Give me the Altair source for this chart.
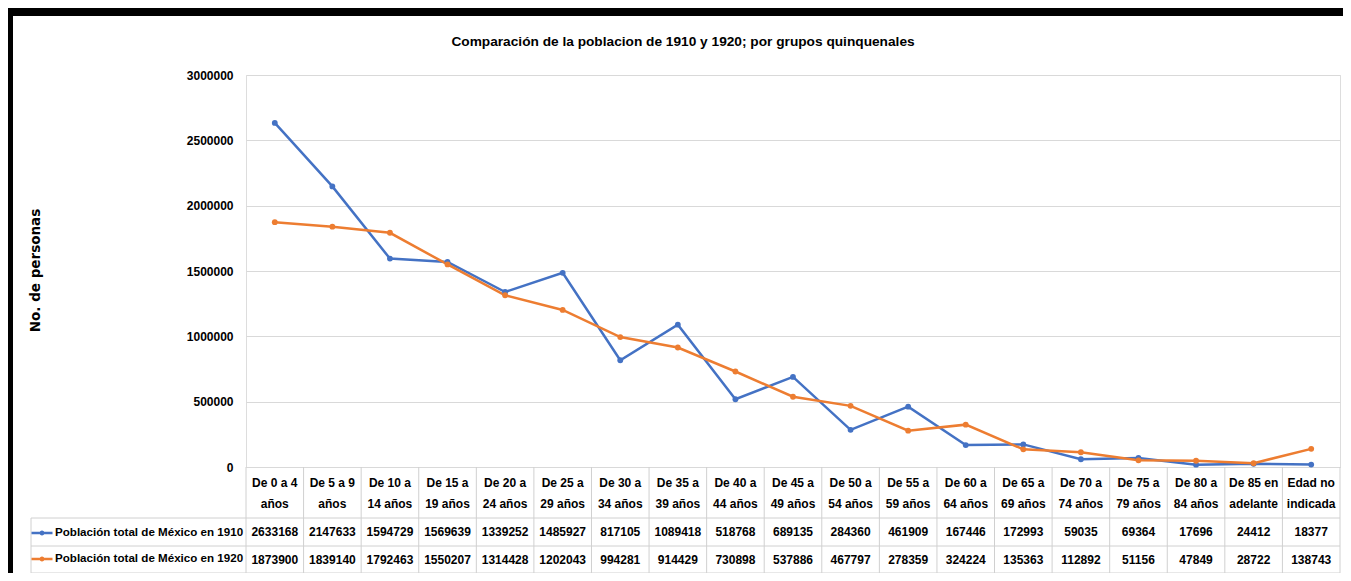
import altair as alt
import pandas as pd

# ---------------- data ----------------
cat_line1 = ["De 0 a 4", "De 5 a 9", "De 10 a", "De 15 a", "De 20 a", "De 25 a", "De 30 a",
             "De 35 a", "De 40 a", "De 45 a", "De 50 a", "De 55 a", "De 60 a", "De 65 a",
             "De 70 a", "De 75 a", "De 80 a", "De 85 en", "Edad no"]
cat_line2 = ["años", "años", "14 años", "19 años", "24 años", "29 años", "34 años",
             "39 años", "44 años", "49 años", "54 años", "59 años", "64 años", "69 años",
             "74 años", "79 años", "84 años", "adelante", "indicada"]
categories = [a + "\n" + b for a, b in zip(cat_line1, cat_line2)]

series_names = ["Población total de México en 1910", "Población total de México en 1920"]
pop_1910 = [2633168, 2147633, 1594729, 1569639, 1339252, 1485927, 817105, 1089418, 518768,
            689135, 284360, 461909, 167446, 172993, 59035, 69364, 17696, 24412, 18377]
pop_1920 = [1873900, 1839140, 1792463, 1550207, 1314428, 1202043, 994281, 914429, 730898,
            537886, 467797, 278359, 324224, 135363, 112892, 51156, 47849, 28722, 138743]
y_ticks = [0, 500000, 1000000, 1500000, 2000000, 2500000, 3000000]

title_text = "Comparación de la poblacion de 1910 y 1920; por grupos quinquenales"
y_title = "No. de personas"

df = pd.DataFrame({
    "cat": categories * 2,
    "serie": [series_names[0]] * len(categories) + [series_names[1]] * len(categories),
    "valor": pop_1910 + pop_1920,
})
df_cat = pd.DataFrame({"cat": categories})

# ---------------- style ----------------
FONT = "Liberation Sans"
W, H = 1094, 392
GRID = "#d9d9d9"
BORDER = "#d0d0d0"
colors = ["#4472C4", "#ED7D31"]

x_enc = alt.X("cat:N", sort=categories, axis=None,
              scale=alt.Scale(paddingInner=0, paddingOuter=0))
color_enc = alt.Color(
    "serie:N",
    scale=alt.Scale(domain=series_names, range=colors),
    legend=alt.Legend(
        title=None, orient="none", legendX=-216, legendY=446, padding=0,
        symbolType="M-1,0L1,0M-0.12,0A0.12,0.12,0,1,1,0.12,0A0.12,0.12,0,1,1,-0.12,0",
        symbolSize=441, symbolStrokeWidth=2.5, rowPadding=7, labelOffset=1,
        labelFont=FONT, labelFontSize=11.6, labelFontWeight="bold", labelColor="#000000",
        labelLimit=400,
    ),
)

y_enc = alt.Y(
    "valor:Q",
    scale=alt.Scale(domain=[0, 3000000], nice=False, zero=True),
    axis=alt.Axis(
        values=y_ticks, format="d", domain=False, ticks=False, grid=True, gridColor=GRID,
        gridWidth=1, labelFont=FONT, labelFontSize=12, labelFontWeight="bold",
        labelColor="#000000", labelPadding=13,
        title=y_title, titleFont="DejaVu Sans", titleFontSize=13.5, titleFontWeight="bold",
        titleColor="#000000", titleAngle=270, titleX=-211, titleY=195,
        titleAlign="center", titleBaseline="middle",
    ),
    title=y_title,
)

lines = alt.Chart(df).mark_line(strokeWidth=2.5).encode(x=x_enc, y=y_enc, color=color_enc)
points = alt.Chart(df).mark_point(filled=True, size=34, opacity=1).encode(
    x=x_enc, y=alt.Y("valor:Q"), color=alt.Color("serie:N", legend=None))
plot = alt.layer(lines, points)

# ---------------- data table ----------------
header = alt.Chart(df_cat).mark_text(
    font=FONT, fontSize=12, fontWeight="bold", color="#000000", lineBreak="\n",
    lineHeight=21, baseline="middle", align="center",
).encode(x=alt.X("cat:N", sort=categories, axis=None), y=alt.value(408), text="cat:N")

values_txt = alt.Chart(df).mark_text(
    font=FONT, fontSize=12, fontWeight="bold", color="#000000", baseline="middle",
    align="center",
).encode(
    x=alt.X("cat:N", sort=categories, axis=None),
    y=alt.Y("serie:N", scale=alt.Scale(type="point", domain=series_names, range=[457, 485],
                                         padding=0), axis=None),
    text=alt.Text("valor:Q", format="d"),
)

vlines = alt.Chart(df_cat).mark_rule(color=BORDER, strokeWidth=1).encode(
    x=alt.X("cat:N", sort=categories, axis=None, bandPosition=0),
    y=alt.value(392), y2=alt.value(498))

one = alt.Data(values=[{"a": 1}])
vline_end = alt.Chart(one).mark_rule(color=BORDER).encode(
    x=alt.value(W), y=alt.value(392), y2=alt.value(498))
vline_left = alt.Chart(one).mark_rule(color=BORDER).encode(
    x=alt.value(-215), y=alt.value(443), y2=alt.value(498))
h1 = alt.Chart(one).mark_rule(color=BORDER).encode(
    x=alt.value(-215), x2=alt.value(W), y=alt.value(443))
h2 = alt.Chart(one).mark_rule(color=BORDER).encode(
    x=alt.value(-215), x2=alt.value(W), y=alt.value(471))
h3 = alt.Chart(one).mark_rule(color=BORDER).encode(
    x=alt.value(-215), x2=alt.value(W), y=alt.value(498))

title = alt.Chart(alt.Data(values=[{"t": title_text}])).mark_text(
    font=FONT, fontSize=13.7, fontWeight="bold", color="#000000", align="center",
    baseline="alphabetic",
).encode(x=alt.value(437), y=alt.value(-29), text="t:N")

# screenshot frame (black bars at top and left)
bar_top = alt.Chart(one).mark_rect(color="#000000").encode(
    x=alt.value(-238), x2=alt.value(W + 3), y=alt.value(-67), y2=alt.value(-59))
bar_left = alt.Chart(one).mark_rect(color="#000000").encode(
    x=alt.value(-238), x2=alt.value(-233), y=alt.value(-67), y2=alt.value(510))

chart = alt.layer(
    plot, header, values_txt, vlines, vline_end, vline_left, h1, h2, h3, title,
    bar_top, bar_left
).resolve_scale(y="independent").properties(
    width=W, height=H,
    autosize=alt.AutoSizeParams(type="none"),
    padding={"left": 238, "top": 67, "right": 3, "bottom": 106},
).configure_view(stroke=None).configure(background="#ffffff")

chart.save("out.html", embed_options={"renderer": "svg", "actions": False})
